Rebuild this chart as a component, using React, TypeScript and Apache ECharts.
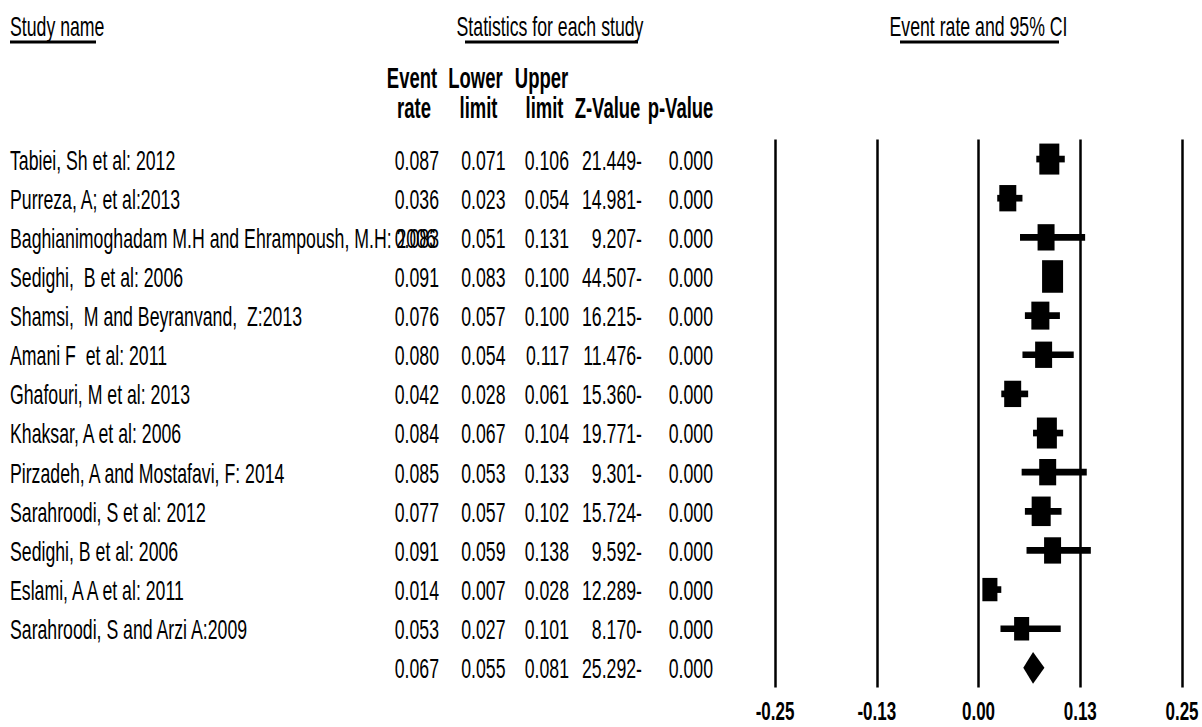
import React, { useEffect, useRef } from "react";
import * as echarts from "echarts";

// ---------------- data ----------------
const studies = [
  "Tabiei, Sh et al: 2012",
  "Purreza, A; et al:2013",
  "Baghianimoghadam M.H and Ehrampoush, M.H: 2006",
  "Sedighi,  B et al: 2006",
  "Shamsi,  M and Beyranvand,  Z:2013",
  "Amani F  et al: 2011",
  "Ghafouri, M et al: 2013",
  "Khaksar, A et al: 2006",
  "Pirzadeh, A and Mostafavi, F: 2014",
  "Sarahroodi, S et al: 2012",
  "Sedighi, B et al: 2006",
  "Eslami, A A et al: 2011",
  "Sarahroodi, S and Arzi A:2009",
];
const eventRate = [0.087, 0.036, 0.083, 0.091, 0.076, 0.08, 0.042, 0.084, 0.085, 0.077, 0.091, 0.014, 0.053];
const lowerLimit = [0.071, 0.023, 0.051, 0.083, 0.057, 0.054, 0.028, 0.067, 0.053, 0.057, 0.059, 0.007, 0.027];
const upperLimit = [0.106, 0.054, 0.131, 0.1, 0.1, 0.117, 0.061, 0.104, 0.133, 0.102, 0.138, 0.028, 0.101];
const zValue = [21.449, 14.981, 9.207, 44.507, 16.215, 11.476, 15.36, 19.771, 9.301, 15.724, 9.592, 12.289, 8.17];
const pValue = [0, 0, 0, 0, 0, 0, 0, 0, 0, 0, 0, 0, 0];
// relative weights (%) – drive the size of each study's square
const weights = [9.7, 7.0, 7.0, 10.7, 7.9, 7.0, 7.0, 9.7, 7.0, 8.8, 7.0, 5.5, 5.5];

const summaryRate = 0.067;
const summaryLower = 0.055;
const summaryUpper = 0.081;
const summaryZ = 25.292;
const summaryP = 0.0;

const axisMin = -0.25;
const axisMax = 0.25;
const axisStep = 0.125;

// ---------------- layout ----------------
const SY = 1.55; // vertical stretch of the whole figure
const W = 1202;
const H = 469;
const FONT = "'Liberation Sans', Arial, Helvetica, sans-serif";
const GRID_TOP = 90;
const GRID_H = 353.5;
const GRID_LEFT = 775;
const GRID_RIGHT = 20;
const NROWS = studies.length + 1;
const rowY = (i: number) => GRID_TOP + (GRID_H / NROWS) * (i + 0.5);

function txt(text: string, x: number, y: number, align: string, bold = false, size = 17.7) {
  return {
    type: "text",
    x,
    y,
    silent: true,
    style: {
      text,
      fill: "#000",
      font: `${bold ? "bold " : ""}${size}px ${FONT}`,
      textAlign: align,
      textVerticalAlign: "middle",
      align,
      verticalAlign: "middle",
    },
  };
}
function uline(x1: number, x2: number, y: number) {
  return {
    type: "line",
    silent: true,
    shape: { x1, y1: y, x2, y2: y },
    style: { stroke: "#000", lineWidth: 2 },
  };
}

export default function App() {
  const ref = useRef<HTMLDivElement>(null);

  useEffect(() => {
    if (!ref.current) return;
    const chart = echarts.init(ref.current, undefined, { renderer: "svg" });

    const cats = [...studies, "Summary"];
    const rates = [...eventRate, summaryRate];
    const lows = [...lowerLimit, summaryLower];
    const highs = [...upperLimit, summaryUpper];
    const zs = [...zValue, summaryZ];
    const ps = [...pValue, summaryP];

    const seriesData = cats.map((_, i) => [rates[i], lows[i], highs[i], i < studies.length ? weights[i] : 0, i]);

    const graphics: any[] = [
      txt("Study name", 10, 17.4, "left"),
      uline(10, 96, 27.1),
      txt("Statistics for each study", 550, 17.4, "center"),
      uline(465, 638, 27.1),
      txt("Event rate and 95% CI", 978.5, 17.4, "center"),
      uline(900, 1059, 27.1),
      txt("Event", 412, 50.3, "center", true, 18.5),
      txt("rate", 414, 69.7, "center", true, 18.5),
      txt("Lower", 475.5, 50.3, "center", true, 18.5),
      txt("limit", 478.5, 69.7, "center", true, 18.5),
      txt("Upper", 541.5, 50.3, "center", true, 18.5),
      txt("limit", 544.5, 69.7, "center", true, 18.5),
      txt("Z-Value", 607.5, 69.7, "center", true, 18.5),
      txt("p-Value", 680.5, 69.7, "center", true, 18.5),
    ];
    cats.forEach((name, i) => {
      const y = rowY(i) + 0.6;
      if (i < studies.length) graphics.push(txt(name, 10, y, "left"));
      graphics.push(txt(rates[i].toFixed(3), 439, y, "right"));
      graphics.push(txt(lows[i].toFixed(3), 505.5, y, "right"));
      graphics.push(txt(highs[i].toFixed(3), 569, y, "right"));
      graphics.push(txt(`${zs[i].toFixed(3)}-`, 642, y, "right"));
      graphics.push(txt(ps[i].toFixed(3), 713, y, "right"));
    });

    chart.setOption({
      animation: false,
      backgroundColor: "#fff",
      grid: { left: GRID_LEFT, right: GRID_RIGHT, top: GRID_TOP, height: GRID_H },
      xAxis: {
        type: "value",
        min: axisMin,
        max: axisMax,
        interval: axisStep,
        axisLine: { show: false },
        axisTick: { show: false },
        splitLine: { show: true, lineStyle: { color: "#000", width: 2.5 } },
        axisLabel: {
          color: "#000",
          fontSize: 17,
          fontWeight: "bold",
          fontFamily: FONT,
          margin: 6.5,
          formatter: (v: number) => v.toFixed(2),
        },
      },
      yAxis: {
        type: "category",
        data: cats,
        inverse: true,
        show: false,
      },
      series: [
        {
          type: "custom",
          clip: false,
          encode: { x: [0, 1, 2], y: 4 },
          data: seriesData,
          renderItem: (params: any, api: any) => {
            const idx = api.value(4);
            const c = api.coord([api.value(0), idx]);
            const l = api.coord([api.value(1), idx]);
            const h = api.coord([api.value(2), idx]);
            if (idx === studies.length) {
              const dh = 10.3;
              return {
                type: "polygon",
                shape: {
                  points: [
                    [l[0], c[1]],
                    [c[0], c[1] - dh],
                    [h[0], c[1]],
                    [c[0], c[1] + dh],
                  ],
                },
                style: { fill: "#000" },
              };
            }
            const side = 6.42 * Math.sqrt(api.value(3));
            return {
              type: "group",
              children: [
                {
                  type: "line",
                  shape: { x1: l[0], y1: c[1], x2: h[0], y2: c[1] },
                  style: { stroke: "#000", lineWidth: 4.3 },
                },
                {
                  type: "rect",
                  shape: { x: c[0] - side / 2, y: c[1] - side / 2, width: side, height: side },
                  style: { fill: "#000" },
                },
              ],
            };
          },
        },
      ],
      graphic: graphics,
    });

    return () => chart.dispose();
  }, []);

  return (
    <div
      ref={ref}
      style={{
        position: "absolute",
        left: 0,
        top: 0,
        width: W,
        height: H,
        transform: `scaleY(${SY})`,
        transformOrigin: "0 0",
      }}
    />
  );
}
